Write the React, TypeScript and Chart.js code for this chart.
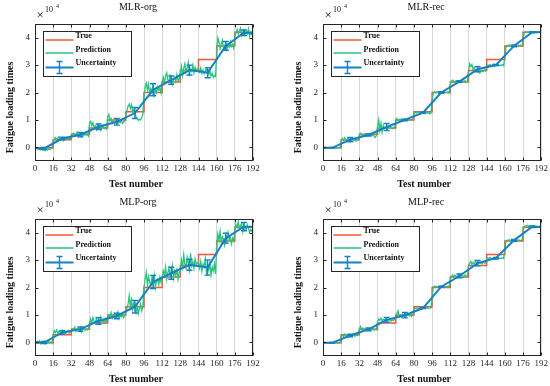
import React, { useEffect, useRef } from 'react';
import { Chart, registerables } from 'chart.js';

Chart.register(...registerables);

const FONT = "'Liberation Serif', 'Times New Roman', Times, serif";
const RED = '#F0583A';
const GREEN = '#27C47C';
const BLUE = '#1580C3';
const AXIS = '#262626';

// axis ticks (values in units of 10^4)
const X_TICKS = [0, 16, 32, 48, 64, 80, 96, 112, 128, 144, 160, 176, 192];
const Y_TICKS = [0, 1, 2, 3, 4];

// true fatigue loading times: level starting at each test block
const TRUE_X = [0, 16, 32, 48, 64, 80, 96, 112, 128, 144, 160, 176, 192];
const TRUE_Y = [-0.02, 0.28, 0.48, 0.7, 1.0, 1.3, 2.0, 2.38, 2.8, 3.2, 3.7, 4.2, 4.2];

// uncertainty line positions
const UNC_X = [0, 8, 24, 40, 56, 72, 88, 104, 120, 136, 152, 168, 184, 192];

// ---- MLR-org ----
const MLR_ORG_PRED = [
  -0.02, -0.04, -0.03, -0.06, -0.08, -0.1, -0.07, -0.11, -0.09, -0.12, -0.08, -0.1, -0.06, -0.09, -0.05, -0.03,
  0.22, 0.3, 0.35, 0.27, 0.33, 0.38, 0.29, 0.31, 0.36, 0.25, 0.32, 0.28, 0.37, 0.3, 0.34, 0.29,
  0.4, 0.48, 0.52, 0.42, 0.45, 0.55, 0.4, 0.47, 0.5, 0.38, 0.46, 0.43, 0.51, 0.44, 0.48, 0.41,
  0.85, 0.95, 0.8, 0.9, 0.72, 0.78, 0.65, 0.82, 0.7, 0.76, 0.62, 0.74, 0.8, 0.68, 0.72, 0.66,
  1.1, 1.2, 0.98, 1.05, 0.88, 0.95, 0.85, 0.92, 1.0, 0.86, 0.94, 0.9, 0.98, 0.87, 0.93, 0.96,
  1.15, 1.35, 1.5, 1.58, 1.42, 1.55, 1.3, 1.38, 1.25, 1.1, 1.05, 0.98, 1.02, 1.0, 1.08, 1.2,
  1.85, 2.2, 2.35, 2.1, 2.3, 1.95, 2.15, 2.05, 2.25, 1.9, 2.1, 2.0, 2.2, 2.08, 2.15, 1.98,
  2.4, 2.55, 2.35, 2.6, 2.72, 2.45, 2.38, 2.62, 2.5, 2.3, 2.48, 2.55, 2.4, 2.66, 2.42, 2.5,
  2.7, 2.95, 2.62, 2.88, 3.05, 2.75, 2.9, 3.1, 2.68, 2.85, 2.78, 3.0, 2.72, 2.92, 2.8, 2.86,
  2.85, 2.75, 2.9, 2.7, 2.82, 2.68, 2.78, 2.88, 2.72, 2.65, 2.8, 2.6, 2.7, 2.55, 2.62, 2.58,
  3.45, 4.0, 3.85, 3.6, 3.75, 3.9, 3.62, 3.7, 3.8, 3.58, 3.72, 3.65, 3.85, 3.68, 3.76, 3.62,
  4.05, 4.2, 4.3, 4.12, 4.25, 4.35, 4.08, 4.18, 4.28, 4.1, 4.22, 4.15, 4.32, 4.05, 4.2, 4.12, 4.18,
];
const MLR_ORG_MEAN = [-0.04, -0.04, 0.32, 0.46, 0.75, 0.93, 1.25, 2.1, 2.45, 2.82, 2.72, 3.7, 4.18, 4.18];
const MLR_ORG_ERR = [null, 0.03, 0.05, 0.08, 0.1, 0.12, 0.2, 0.22, 0.15, 0.18, 0.18, 0.16, 0.1, null];

// ---- MLR-rec ----
const MLR_REC_PRED = [
  -0.02, -0.02, -0.01, -0.02, -0.03, -0.02, -0.01, -0.02, -0.02, -0.03, -0.02, -0.01, -0.02, -0.02, -0.01, -0.02,
  0.2, 0.32, 0.25, 0.35, 0.28, 0.22, 0.33, 0.27, 0.3, 0.24, 0.31, 0.26, 0.34, 0.23, 0.29, 0.27,
  0.42, 0.5, 0.44, 0.47, 0.41, 0.48, 0.45, 0.43, 0.49, 0.44, 0.46, 0.42, 0.47, 0.4, 0.36, 0.44,
  0.75, 1.0, 0.62, 0.88, 0.55, 0.8, 0.68, 0.74, 0.7, 0.65, 0.72, 0.78, 0.7, 0.68, 0.73, 0.7,
  0.95, 1.05, 0.98, 1.02, 1.0, 1.04, 0.97, 1.01, 1.03, 0.99, 1.0, 1.02, 0.98, 1.01, 1.0, 1.03,
  1.22, 1.28, 1.25, 1.3, 1.26, 1.24, 1.29, 1.27, 1.25, 1.23, 1.27, 1.26, 1.24, 1.28, 1.22, 1.25,
  1.7, 1.98, 2.02, 1.99, 2.03, 2.0, 1.98, 2.02, 2.0, 1.97, 2.01, 2.03, 1.99, 2.0, 2.02, 1.98,
  2.3, 2.42, 2.45, 2.4, 2.38, 2.43, 2.41, 2.39, 2.44, 2.4, 2.37, 2.42, 2.4, 2.43, 2.38, 2.41,
  2.75, 3.05, 2.95, 3.02, 2.85, 2.9, 2.78, 2.82, 2.75, 2.85, 2.72, 2.8, 2.78, 2.76, 2.82, 2.79,
  2.95, 3.0, 2.98, 3.02, 2.97, 3.0, 3.03, 2.96, 3.0, 2.98, 3.01, 2.97, 3.0, 2.99, 3.02, 2.98,
  3.3, 3.65, 3.72, 3.7, 3.74, 3.71, 3.69, 3.73, 3.7, 3.72, 3.68, 3.71, 3.73, 3.7, 3.72, 3.69,
  3.95, 4.18, 4.22, 4.2, 4.21, 4.19, 4.22, 4.2, 4.18, 4.21, 4.2, 4.22, 4.19, 4.2, 4.21, 4.2, 4.2,
];
const MLR_REC_MEAN = [-0.02, -0.02, 0.28, 0.45, 0.74, 1.0, 1.26, 2.0, 2.4, 2.85, 3.0, 3.7, 4.2, 4.2];
const MLR_REC_ERR = [null, 0.01, 0.08, 0.04, 0.13, 0.03, 0.02, 0.03, 0.03, 0.09, 0.02, 0.03, 0.02, null];

// ---- MLP-org ----
const MLP_ORG_PRED = [
  0.0, -0.03, 0.04, -0.02, 0.05, -0.05, 0.02, -0.04, 0.03, -0.06, 0.0, -0.03, 0.05, -0.02, 0.01, -0.04,
  0.3, 0.42, 0.36, 0.45, 0.33, 0.4, 0.38, 0.3, 0.44, 0.35, 0.4, 0.32, 0.37, 0.43, 0.34, 0.39,
  0.42, 0.5, 0.45, 0.55, 0.4, 0.48, 0.52, 0.44, 0.5, 0.38, 0.47, 0.53, 0.43, 0.49, 0.45, 0.51,
  0.62, 0.85, 0.72, 0.9, 0.78, 0.68, 0.88, 0.75, 0.82, 0.7, 0.92, 0.76, 0.8, 0.72, 0.86, 0.74,
  0.85, 1.0, 0.92, 1.08, 0.88, 0.98, 1.05, 0.9, 0.96, 1.1, 0.87, 0.99, 0.93, 1.02, 0.9, 0.97,
  1.1, 1.25, 1.4, 1.7, 1.3, 1.55, 1.2, 1.45, 1.35, 1.1, 1.3, 1.05, 1.25, 1.4, 1.15, 1.3,
  2.0, 2.3, 2.55, 2.1, 2.4, 2.2, 2.05, 2.35, 2.15, 2.45, 2.0, 2.25, 2.3, 2.1, 2.38, 2.2,
  2.35, 2.6, 2.45, 2.75, 2.3, 2.55, 2.7, 2.4, 2.5, 2.8, 2.35, 2.6, 2.45, 2.65, 2.3, 2.55,
  2.6, 3.0, 2.75, 3.2, 2.85, 2.7, 3.1, 2.9, 2.65, 3.25, 2.8, 2.95, 2.7, 3.05, 2.85, 2.9,
  2.9, 2.7, 2.95, 2.6, 2.85, 2.75, 3.05, 2.55, 2.8, 2.65, 2.9, 2.45, 2.75, 2.6, 2.85, 2.5,
  3.5, 3.95, 3.7, 4.05, 3.65, 3.85, 3.75, 3.55, 3.9, 3.7, 4.0, 3.75, 3.85, 3.6, 3.8, 3.7,
  4.1, 4.3, 4.2, 4.4, 4.15, 4.25, 4.35, 4.05, 4.3, 4.2, 4.1, 4.28, 4.15, 4.02, 4.12, 4.05, 4.1,
];
const MLP_ORG_MEAN = [-0.01, -0.01, 0.36, 0.48, 0.78, 0.96, 1.3, 2.2, 2.52, 2.83, 2.73, 3.8, 4.22, 4.22];
const MLP_ORG_ERR = [null, 0.04, 0.06, 0.08, 0.12, 0.1, 0.23, 0.24, 0.22, 0.2, 0.28, 0.18, 0.15, null];

// ---- MLP-rec ----
const MLP_REC_PRED = [
  -0.02, -0.01, -0.02, -0.03, -0.02, -0.02, -0.01, -0.02, -0.03, -0.02, -0.02, -0.01, -0.02, -0.03, -0.02, -0.02,
  0.22, 0.27, 0.2, 0.3, 0.24, 0.28, 0.21, 0.26, 0.29, 0.23, 0.25, 0.3, 0.22, 0.27, 0.24, 0.26,
  0.5, 0.58, 0.45, 0.52, 0.48, 0.44, 0.5, 0.46, 0.49, 0.43, 0.47, 0.45, 0.5, 0.44, 0.48, 0.46,
  0.75, 0.85, 0.8, 0.88, 0.78, 0.84, 0.82, 0.86, 0.79, 0.83, 0.8, 0.85, 0.77, 0.82, 0.8, 0.84,
  0.9, 1.05, 1.15, 0.95, 1.0, 0.92, 1.02, 0.97, 1.05, 0.93, 0.99, 1.03, 0.96, 1.0, 0.94, 1.01,
  1.22, 1.25, 1.23, 1.26, 1.24, 1.25, 1.22, 1.27, 1.24, 1.25, 1.23, 1.26, 1.25, 1.24, 1.26, 1.25,
  1.6, 2.02, 2.05, 2.03, 2.04, 2.02, 2.03, 2.05, 2.02, 2.04, 2.03, 2.02, 2.04, 2.03, 2.05, 2.02,
  2.3, 2.4, 2.46, 2.38, 2.45, 2.42, 2.36, 2.48, 2.4, 2.44, 2.37, 2.43, 2.41, 2.46, 2.39, 2.42,
  2.8, 2.88, 2.95, 2.85, 2.92, 2.87, 2.96, 2.9, 2.84, 2.93, 2.88, 2.91, 2.86, 2.94, 2.89, 2.9,
  3.05, 3.08, 3.06, 3.1, 3.07, 3.05, 3.08, 3.06, 3.09, 3.07, 3.05, 3.08, 3.06, 3.07, 3.09, 3.06,
  3.4, 3.7, 3.73, 3.72, 3.74, 3.71, 3.73, 3.72, 3.74, 3.71, 3.73, 3.72, 3.74, 3.73, 3.71, 3.72,
  4.0, 4.22, 4.25, 4.24, 4.26, 4.23, 4.25, 4.24, 4.22, 4.25, 4.23, 4.24, 4.22, 4.2, 4.21, 4.2, 4.2,
];
const MLP_REC_MEAN = [-0.02, -0.02, 0.25, 0.47, 0.82, 0.99, 1.25, 2.03, 2.42, 2.89, 3.07, 3.72, 4.22, 4.22];
const MLP_REC_ERR = [null, 0.01, 0.05, 0.05, 0.09, 0.1, 0.02, 0.02, 0.07, 0.1, 0.03, 0.03, 0.03, null];

const PANELS = [
  { title: 'MLR-org', pred: MLR_ORG_PRED, mean: MLR_ORG_MEAN, err: MLR_ORG_ERR, left: 0, top: 0, padL: 0, padR: 22 },
  { title: 'MLR-rec', pred: MLR_REC_PRED, mean: MLR_REC_MEAN, err: MLR_REC_ERR, left: 275, top: 0, padL: 13, padR: 8 },
  { title: 'MLP-org', pred: MLP_ORG_PRED, mean: MLP_ORG_MEAN, err: MLP_ORG_ERR, left: 0, top: 195, padL: 0, padR: 22 },
  { title: 'MLP-rec', pred: MLP_REC_PRED, mean: MLP_REC_MEAN, err: MLP_REC_ERR, left: 275, top: 195, padL: 13, padR: 8 },
];

const W = 275;
const H = 191;

function drawErrBar(ctx: CanvasRenderingContext2D, px: number, t: number, b: number, cap: number) {
  ctx.beginPath();
  ctx.moveTo(px, t);
  ctx.lineTo(px, b);
  ctx.moveTo(px - cap, t);
  ctx.lineTo(px + cap, t);
  ctx.moveTo(px - cap, b);
  ctx.lineTo(px + cap, b);
  ctx.stroke();
}

function makeDecor(title: string, err: (number | null)[]) {
  return {
    id: 'decor',
    afterDatasetsDraw(chart: any) {
      const { ctx, chartArea: a, scales } = chart;
      const xs = scales.x;
      const ys = scales.y;
      const pts = chart.data.datasets[2].data as { x: number; y: number }[];
      ctx.save();
      ctx.beginPath();
      ctx.rect(a.left, a.top, a.right - a.left, a.bottom - a.top);
      ctx.clip();
      ctx.strokeStyle = BLUE;
      ctx.lineWidth = 1.4;
      pts.forEach((p, i) => {
        const e = err[i];
        if (e == null) return;
        const px = xs.getPixelForValue(p.x);
        drawErrBar(ctx, px, ys.getPixelForValue(p.y + e), ys.getPixelForValue(p.y - e), 3);
      });
      ctx.restore();
    },
    afterDraw(chart: any) {
      const { ctx, chartArea: a, scales } = chart;
      const xs = scales.x;
      const ys = scales.y;
      const L = Math.round(a.left) + 0.5;
      const T = Math.round(a.top) + 0.5;
      const R = Math.round(a.right) - 0.5;
      const B = Math.round(a.bottom) - 0.5;
      ctx.save();
      // box
      ctx.strokeStyle = AXIS;
      ctx.lineWidth = 1;
      ctx.strokeRect(L, T, R - L, B - T);
      // inward ticks
      ctx.beginPath();
      X_TICKS.forEach((v) => {
        const px = Math.round(xs.getPixelForValue(v)) + 0.5;
        ctx.moveTo(px, B);
        ctx.lineTo(px, B - 3);
        ctx.moveTo(px, T);
        ctx.lineTo(px, T + 3);
      });
      Y_TICKS.forEach((v) => {
        const py = Math.round(ys.getPixelForValue(v)) + 0.5;
        ctx.moveTo(L, py);
        ctx.lineTo(L + 3, py);
        ctx.moveTo(R, py);
        ctx.lineTo(R - 3, py);
      });
      ctx.stroke();

      // texts
      const cx = (a.left + a.right) / 2;
      const cy = (a.top + a.bottom) / 2;
      ctx.fillStyle = '#111';
      ctx.textAlign = 'center';
      ctx.textBaseline = 'middle';
      ctx.font = `10px ${FONT}`;
      ctx.fillText(title, cx - 6, a.top - 17);
      ctx.font = `bold 10px ${FONT}`;
      ctx.fillText('Test number', cx - 8, a.bottom + 23);
      ctx.save();
      ctx.translate(a.left - 25, cy + 15);
      ctx.rotate(-Math.PI / 2);
      ctx.fillText('Fatigue loading times', 0, 0);
      ctx.restore();

      // exponent
      ctx.textAlign = 'left';
      ctx.font = `13px ${FONT}`;
      ctx.fillText('×', a.left + 1.5, a.top - 8.5);
      ctx.font = `8px ${FONT}`;
      ctx.fillText('10', a.left + 10, a.top - 14);
      ctx.font = `6px ${FONT}`;
      ctx.fillText('4', a.left + 21, a.top - 17.5);

      // legend
      const bx = Math.round(a.left) + 8.5;
      const by = Math.round(a.top) + 7.5;
      ctx.fillStyle = '#fff';
      ctx.fillRect(bx, by, 88, 45);
      ctx.strokeStyle = AXIS;
      ctx.lineWidth = 1;
      ctx.strokeRect(bx, by, 88, 45);
      const rows: [string, string, number, number, number][] = [
        [RED, 'True', 8.5, 6, 1.5],
        [GREEN, 'Prediction', 21.5, 20, 1.5],
        [BLUE, 'Uncertainty', 36, 33.5, 2],
      ];
      ctx.textBaseline = 'alphabetic';
      ctx.font = `bold 8px ${FONT}`;
      rows.forEach(([c, label, ly, ty, lw]) => {
        ctx.strokeStyle = c;
        ctx.lineWidth = lw;
        ctx.beginPath();
        ctx.moveTo(bx + 2, by + ly);
        ctx.lineTo(bx + 30, by + ly);
        ctx.stroke();
        ctx.fillStyle = '#111';
        ctx.fillText(label, bx + 32, by + ty);
      });
      ctx.strokeStyle = BLUE;
      ctx.lineWidth = 1.4;
      drawErrBar(ctx, bx + 16, by + 30, by + 42, 3);
      ctx.restore();
    },
  };
}

function Panel({ cfg }: { cfg: (typeof PANELS)[number] }) {
  const ref = useRef<HTMLCanvasElement | null>(null);
  useEffect(() => {
    if (!ref.current) return;
    const chart = new Chart(ref.current, {
      type: 'line',
      data: {
        datasets: [
          {
            label: 'True',
            data: TRUE_X.map((x, i) => ({ x, y: TRUE_Y[i] })),
            borderColor: RED,
            borderWidth: 1.5,
            stepped: 'before',
            pointRadius: 0,
            order: 3,
          },
          {
            label: 'Prediction',
            data: cfg.pred.map((y, i) => ({ x: i, y })),
            borderColor: GREEN,
            borderWidth: 1.3,
            pointRadius: 0,
            tension: 0,
            order: 2,
          },
          {
            label: 'Uncertainty',
            data: UNC_X.map((x, i) => ({ x, y: cfg.mean[i] })),
            borderColor: BLUE,
            borderWidth: 2,
            pointRadius: 0,
            tension: 0,
            order: 1,
          },
        ],
      } as any,
      options: {
        responsive: false,
        animation: false,
        devicePixelRatio: 1,
        events: [],
        layout: { padding: { left: cfg.padL, right: cfg.padR, top: 24, bottom: 0 } },
        plugins: { legend: { display: false }, tooltip: { enabled: false }, title: { display: false } },
        scales: {
          x: {
            type: 'linear',
            min: 0,
            max: 192,
            afterBuildTicks: (s: any) => {
              s.ticks = X_TICKS.map((v) => ({ value: v }));
            },
            afterFit: (s: any) => {
              s.height = 30;
            },
            ticks: {
              autoSkip: false,
              maxRotation: 0,
              minRotation: 0,
              padding: 2,
              color: AXIS,
              font: { size: 9, family: FONT },
              callback: (v: any) => String(v),
            },
            grid: { color: '#d9d9d9', lineWidth: 1, drawTicks: false },
            border: { display: false },
          },
          y: {
            type: 'linear',
            min: -0.5,
            max: 4.5,
            afterBuildTicks: (s: any) => {
              s.ticks = Y_TICKS.map((v) => ({ value: v }));
            },
            afterFit: (s: any) => {
              s.width = 35;
            },
            ticks: {
              autoSkip: false,
              padding: 5,
              color: AXIS,
              font: { size: 9, family: FONT },
              callback: (v: any) => String(v),
            },
            grid: { display: false, drawTicks: false },
            border: { display: false },
          },
        },
      } as any,
      plugins: [makeDecor(cfg.title, cfg.err) as any],
    });
    return () => chart.destroy();
  }, [cfg]);
  return (
    <canvas
      ref={ref}
      width={W}
      height={H}
      style={{ position: 'absolute', left: cfg.left, top: cfg.top, width: W, height: H }}
    />
  );
}

export default function App() {
  return (
    <div style={{ position: 'absolute', left: 0, top: 0, width: 550, height: 386, background: '#fff', overflow: 'hidden' }}>
      {PANELS.map((p) => (
        <Panel key={p.title} cfg={p} />
      ))}
    </div>
  );
}
